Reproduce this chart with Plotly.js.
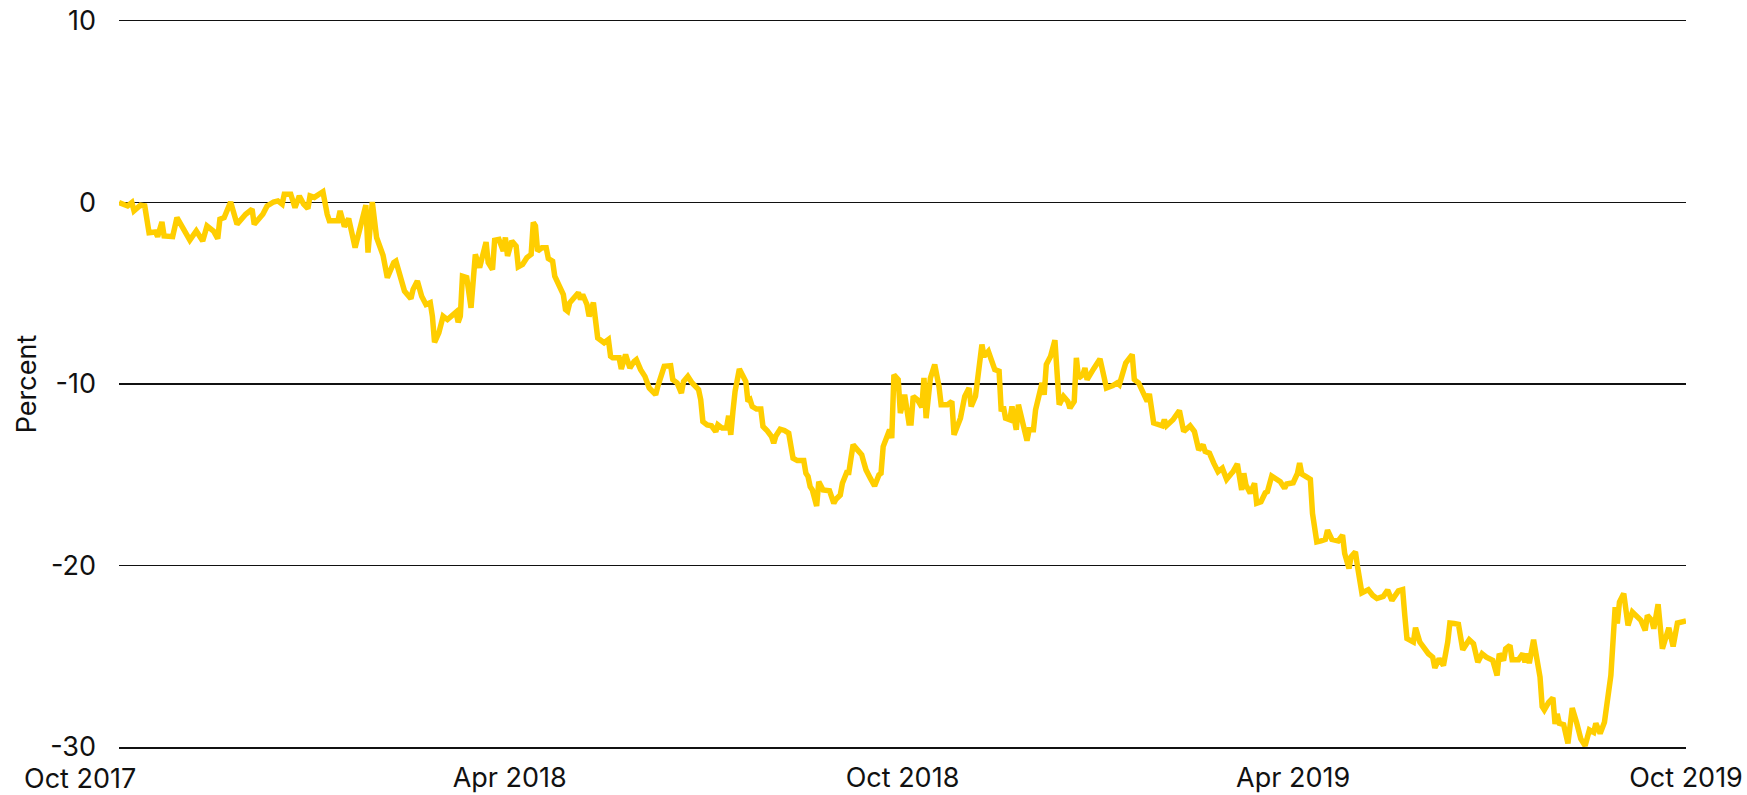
<!DOCTYPE html>
<html><head><meta charset="utf-8">
<script src="https://cdn.plot.ly/plotly-3.0.1.min.js"></script>
<style>html,body{margin:0;padding:0;background:#fff;overflow:hidden}</style>
</head><body><div id="chart" style="width:1747px;height:795px"></div>
<script>
const startDate = Date.UTC(2017, 9, 1);
const dayOffsets = [
0,4,6,7,10,12,14,17,18,20,21,25,27,30,33,36,37,39,41,44,46,47,49,52,55,59,62,63,67,69,72,74,76,77,80,82,84,86,88,89,91,95,97,98,102,103,105,107,110,112,115,116,118,120,123,
125,128,129,131,133,136,137,139,141,143,145,146,147,149,151,153,155,157,158,159,160,162,164,165,166,168,171,172,174,175,177,179,180,181,183,185,186,188,190,192,193,194,195,197,199,200,202,203,205,207,208,209,210,212,214,215,216,218,219,221,222,223,226,228,229,230,233,234,236,238,240,241,243,245,247,249,250,
251,254,257,258,260,262,263,265,267,270,271,272,274,276,278,279,281,283,284,285,286,287,289,292,293,294,295,297,299,300,302,304,305,306,308,310,312,313,314,316,319,320,321,322,323,325,326,328,329,331,333,334,336,337,339,340,341,342,344,346,347,348,350,352,354,355,
356,359,360,361,363,364,365,366,368,369,370,372,374,375,376,378,380,382,383,386,388,389,392,394,396,397,399,402,403,405,408,410,411,412,413,415,416,418,419,421,423,424,426,427,429,430,431,432,434,436,438,440,442,443,445,446,447,449,450,451,454,457,459,460,463,465,466,468,469,472,473,475,477,479,480,
482,486,487,488,491,494,496,499,501,503,505,506,508,510,512,514,516,518,519,521,523,524,525,527,529,530,532,534,535,537,539,541,543,544,547,549,550,551,553,555,556,558,560,562,563,565,568,570,571,573,574,576,577,579,582,584,586,589,591,593,596,598,
599,600,603,604,606,608,610,612,613,615,617,619,620,622,624,626,629,631,633,635,637,640,642,643,645,646,648,649,652,654,655,656,657,659,661,662,663,664,666,668,669,670,671,673,675,677,679,681,683,685,687,688,690,692,695,696,697,698,699,701,703,705,709,711,712,714,715,717,719,722,724,726,730
];
const percentValues = [
0,-0.19,0,-0.46,-0.15,-0.19,-1.66,-1.62,-1.88,-1.07,-1.84,-1.88,-0.83,-1.38,-2.07,-1.57,-1.75,-2.12,-1.29,-1.57,-1.99,-0.92,-0.83,0.03,-1.2,-0.65,-0.37,-1.2,-0.65,-0.19,0.03,0.09,-0.09,0.46,0.46,-0.28,0.36,-0.09,-0.33,0.36,0.28,0.59,-0.65,-1.01,-1.01,-0.46,-1.33,-0.88,-2.49,-1.66,-0.15,-2.76,0.03,-1.93,-2.91,
-4.14,-3.31,-3.23,-4.06,-4.88,-5.3,-4.79,-4.33,-5.16,-5.62,-5.52,-6.27,-7.7,-7.18,-6.27,-6.45,-6.27,-6.04,-6.6,-6.27,-4.06,-4.14,-5.8,-3.69,-2.86,-3.59,-2.18,-3.31,-3.69,-2.08,-2.03,-2.67,-1.93,-2.95,-2.12,-2.4,-3.54,-3.41,-3.04,-2.86,-1.1,-1.29,-2.67,-2.49,-2.49,-3.09,-3.23,-4.06,-4.61,-5.07,-5.9,-5.99,-5.52,-5.25,-4.97,-5.34,-5.07,-5.62,-6.27,-5.52,-6.63,-7.46,-7.73,-7.55,-8.47,-8.56,-8.56,-9.17,-8.38,-9.12,-8.75,-8.66,-9.21,-9.58,-10.22,-10.46,-10.59,
-10.13,-9.03,-8.99,-9.76,-9.94,-10.5,-9.86,-9.58,-9.94,-10.31,-10.87,-12.07,-12.25,-12.3,-12.62,-12.25,-12.43,-12.43,-11.75,-12.8,-11.51,-10.41,-9.17,-9.86,-10.96,-10.87,-11.24,-11.38,-11.38,-12.34,-12.58,-12.9,-13.26,-12.86,-12.49,-12.56,-12.71,-13.35,-14.09,-14.22,-14.22,-14.92,-15.1,-15.66,-15.84,-16.72,-15.38,-15.84,-15.84,-15.88,-16.57,-16.35,-16.12,-15.47,-14.88,-14.88,-14.09,-13.35,-13.63,-13.9,-14.33,-14.73,-15.19,-15.62,-15.01,-14.92,
-13.45,-12.52,-12.98,-9.49,-9.76,-11.6,-11.14,-10.59,-12.15,-12.15,-10.68,-10.87,-11.28,-9.67,-11.88,-9.67,-8.93,-10.13,-11.14,-11.14,-10.96,-12.8,-11.88,-10.68,-10.22,-11.24,-10.68,-7.83,-8.47,-8.2,-9.21,-9.3,-11.51,-11.24,-11.88,-11.97,-11.24,-12.52,-11.14,-12.15,-13.12,-12.52,-12.52,-11.42,-10.41,-9.94,-10.59,-8.93,-8.47,-7.59,-11.14,-10.68,-10.96,-11.33,-10.96,-8.56,-9.67,-9.49,-9.12,-9.76,-9.17,-8.62,-9.67,-10.22,-10.09,-9.94,-10.04,-9.12,-8.84,-8.38,-9.76,-9.94,-10.41,-10.96,-10.54,
-12.15,-12.3,-11.97,-12.3,-11.97,-11.46,-12.62,-12.3,-12.62,-13.63,-13.35,-13.72,-13.81,-14.36,-14.83,-14.64,-15.25,-14.96,-14.83,-14.4,-15.84,-14.92,-15.56,-16.02,-15.47,-16.57,-16.49,-15.99,-15.93,-15.07,-15.25,-15.38,-15.75,-15.51,-15.44,-14.92,-14.36,-14.96,-15.1,-15.25,-17.13,-18.7,-18.64,-18.56,-18.05,-18.56,-18.64,-18.33,-19.34,-20.17,-19.52,-19.25,-20.08,-21.51,-21.33,-21.64,-21.82,-21.7,-21.36,-21.92,-21.4,-21.33,
-22.75,-24.03,-24.22,-23.43,-24.22,-24.59,-24.86,-25.05,-25.64,-25.14,-25.51,-24.22,-23.17,-23.2,-23.24,-24.64,-24.09,-24.31,-25.33,-24.86,-25.05,-25.23,-26.06,-24.86,-25.23,-24.59,-24.4,-25.19,-25.19,-24.86,-25.33,-24.86,-25.38,-24.09,-25.51,-26.15,-27.77,-27.96,-27.54,-27.29,-28.73,-28.18,-28.7,-28.77,-29.8,-27.85,-28.64,-29.56,-29.93,-29.06,-29.19,-28.7,-29.25,-28.64,-26.06,-23.76,-22.29,-23.2,-22.01,-21.55,-23.3,-22.56,-23.02,-23.57,-22.75,-23.02,-23.48,-22.14,-24.59,-23.43,-24.46,-23.17,-23.06
];
const xRange = ['2017-10-01', '2019-10-01'];
const xTickDates = ['2018-04-01', '2018-10-01', '2019-04-01', '2019-10-01'];
const xTickLabels = ['Apr 2018', 'Oct 2018', 'Apr 2019', 'Oct 2019'];
const firstTickLabel = 'Oct 2017';
const yTickVals = [-30, -20, -10, 0, 10];
const yTickLabels = ['-30', '-20', '-10', '0', '10'];
const yTitle = 'Percent';

const dates = dayOffsets.map(d => new Date(startDate + d * 86400000).toISOString().slice(0, 10));

const fontFamily = 'Inter, "Noto Sans", sans-serif';
const textColor = '#111111';
const ruleColor = '#111111';

const trace = {
  x: dates, y: percentValues, type: 'scatter', mode: 'lines',
  line: {color: '#FFCE00', width: 5.5, shape: 'linear'},
  hoverinfo: 'skip', cliponaxis: false
};

const layout = {
  width: 1747, height: 795,
  margin: {l: 119, r: 61, t: 21, b: 48, pad: 0},
  paper_bgcolor: '#ffffff', plot_bgcolor: '#ffffff',
  font: {family: fontFamily, size: 27, color: textColor},
  showlegend: false,
  xaxis: {
    type: 'date', range: xRange, tickvals: xTickDates, ticktext: xTickLabels,
    showgrid: false, zeroline: false, ticks: '',
    showline: true, mirror: true, linecolor: ruleColor, linewidth: 1.5,
    tickfont: {size: 27, color: textColor}, ticklabelstandoff: 6, fixedrange: true
  },
  yaxis: {
    range: [-30, 10], tickvals: yTickVals, ticktext: yTickLabels,
    showgrid: true, gridcolor: ruleColor, gridwidth: 1.5,
    zeroline: false, showline: false, ticks: '', ticklabelstandoff: 22,
    tickfont: {size: 27, color: textColor}, fixedrange: true,
    title: {text: yTitle, font: {size: 27, color: textColor}, standoff: 5}
  },
  annotations: [{
    text: firstTickLabel, xref: 'paper', yref: 'paper', x: -0.0252, y: 0,
    xanchor: 'center', yanchor: 'top', yshift: -13, showarrow: false,
    font: {size: 27, color: textColor}
  }]
};

Plotly.newPlot('chart', [trace], layout, {displayModeBar: false, staticPlot: true});
</script></body></html>
